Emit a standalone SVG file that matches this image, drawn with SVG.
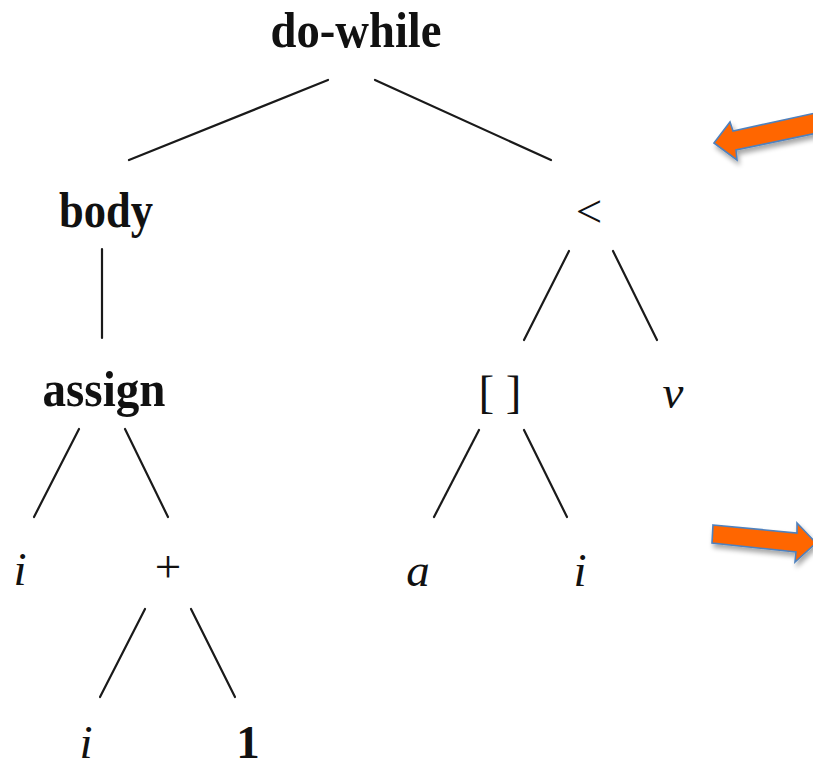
<svg xmlns="http://www.w3.org/2000/svg" width="813" height="769" viewBox="0 0 813 769">
  <defs>
    <style>
      .b { font-family: "Liberation Serif", "Times New Roman", serif; font-weight: bold; font-size: 50px; fill: #111; text-anchor: middle; }
      .r { font-family: "Liberation Serif", "Times New Roman", serif; font-size: 47px; fill: #111; text-anchor: middle; }
      .it { font-family: "Liberation Serif", "Times New Roman", serif; font-style: italic; font-size: 47px; fill: #111; text-anchor: middle; }
      .edge { stroke: #1a1a1a; stroke-width: 2.2; fill: none; stroke-linecap: round; }
      .arrow { fill: #FF6600; stroke: #4F81BD; stroke-width: 1.6; stroke-linejoin: miter; }
    </style>
    <filter id="shadow" x="-20%" y="-40%" width="140%" height="200%">
      <feGaussianBlur in="SourceAlpha" stdDeviation="2.5"/>
      <feOffset dx="2" dy="4" result="blur"/>
      <feComponentTransfer><feFuncA type="linear" slope="0.35"/></feComponentTransfer>
      <feMerge><feMergeNode/><feMergeNode in="SourceGraphic"/></feMerge>
    </filter>
  </defs>
  <rect width="813" height="769" fill="#ffffff"/>

  <g id="connectors">
    <line class="edge" x1="328" y1="80" x2="129" y2="160"/>
    <line class="edge" x1="375" y1="80" x2="551" y2="160"/>
    <line class="edge" x1="102" y1="249" x2="102" y2="338"/>
    <line class="edge" x1="79" y1="429" x2="34" y2="517"/>
    <line class="edge" x1="125" y1="429" x2="168" y2="517"/>
    <line class="edge" x1="145" y1="609" x2="100" y2="697"/>
    <line class="edge" x1="191" y1="609" x2="235" y2="697"/>
    <line class="edge" x1="569" y1="251" x2="524" y2="340"/>
    <line class="edge" x1="613" y1="251" x2="657" y2="340"/>
    <line class="edge" x1="479" y1="430" x2="434" y2="517"/>
    <line class="edge" x1="524" y1="430" x2="567" y2="517"/>
  </g>

  <g id="n-dowhile"><text class="b" x="356" y="47" textLength="171" lengthAdjust="spacingAndGlyphs">do-while</text></g>
  <g id="n-body"><text class="b" x="106" y="227" textLength="94" lengthAdjust="spacingAndGlyphs">body</text></g>
  <g id="n-lt"><text class="r" x="589" y="227">&lt;</text></g>
  <g id="n-assign"><text class="b" x="104" y="406" textLength="123" lengthAdjust="spacingAndGlyphs">assign</text></g>
  <g id="n-index"><text class="r" x="500" y="408">[ ]</text></g>
  <g id="n-v"><text class="it" x="673" y="408">v</text></g>
  <g id="n-i1"><text class="it" x="20" y="585">i</text></g>
  <g id="n-plus"><text class="r" x="168" y="582">+</text></g>
  <g id="n-a"><text class="it" x="418" y="586">a</text></g>
  <g id="n-i2"><text class="it" x="580" y="586">i</text></g>
  <g id="n-i3"><text class="it" x="86" y="758">i</text></g>
  <g id="n-one"><text class="b" x="248" y="758" style="font-size:47px">1</text></g>

  <g id="arrow-left" filter="url(#shadow)">
    <polygon class="arrow" points="714,143 730,122 733,131 820,112 822,132 736,150 737,160"/>
  </g>
  <g id="arrow-right" filter="url(#shadow)">
    <polygon class="arrow" points="713,525 797,533 797,523 816,543 795,562 796,552 712,543"/>
  </g>
</svg>
